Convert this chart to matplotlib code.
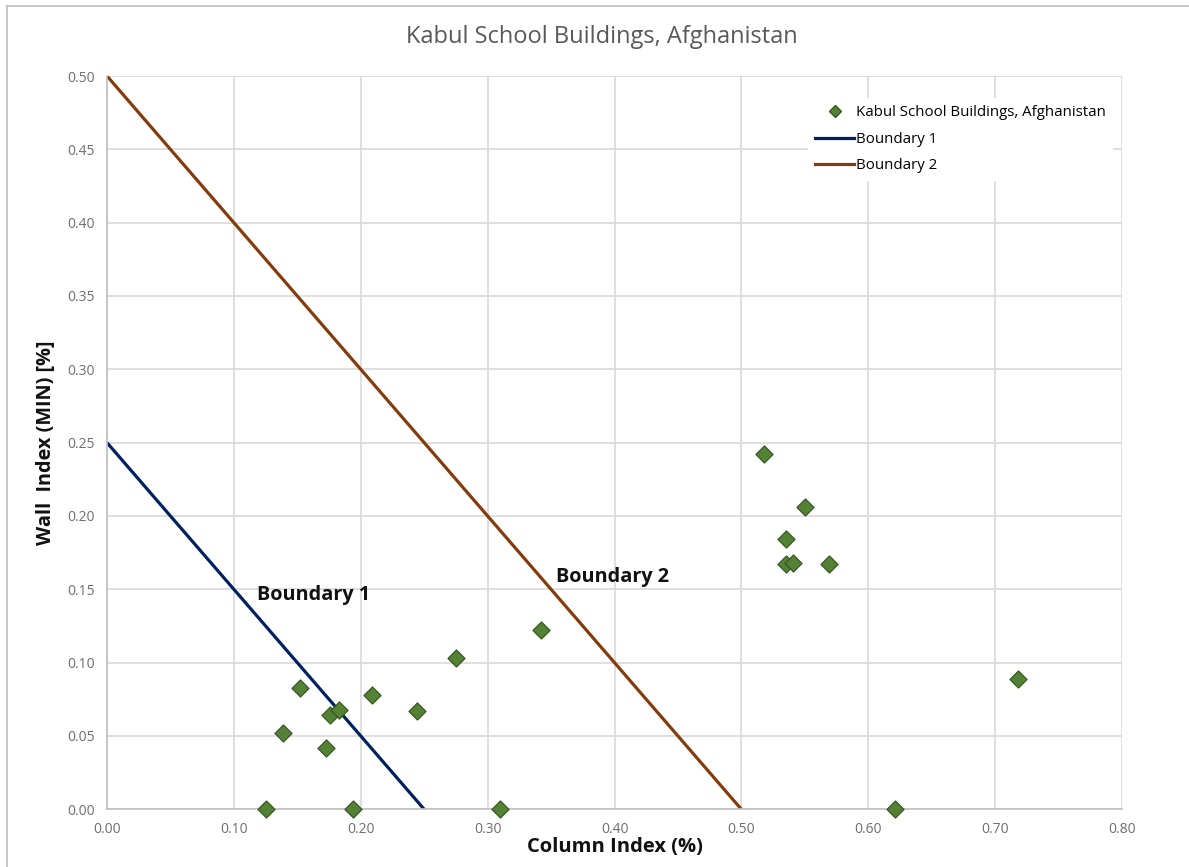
import matplotlib
matplotlib.use("Agg")
import matplotlib.pyplot as plt
from matplotlib.lines import Line2D

# ---- data ----
column_index = [0.152, 0.139, 0.173, 0.176, 0.183, 0.209, 0.244, 0.275,
                0.125, 0.194, 0.310, 0.342, 0.518, 0.550, 0.535, 0.535,
                0.541, 0.569, 0.718, 0.621]
wall_index = [0.083, 0.052, 0.042, 0.064, 0.068, 0.078, 0.067, 0.103,
              0.000, 0.000, 0.000, 0.122, 0.242, 0.206, 0.184, 0.167,
              0.168, 0.167, 0.089, 0.000]
boundary1_x = [0.0, 0.25]
boundary1_y = [0.25, 0.0]
boundary2_x = [0.0, 0.5]
boundary2_y = [0.5, 0.0]
x_ticks = [0.0, 0.1, 0.2, 0.3, 0.4, 0.5, 0.6, 0.7, 0.8]
y_ticks = [0.0, 0.05, 0.10, 0.15, 0.20, 0.25, 0.30, 0.35, 0.40, 0.45, 0.50]

FONT = ["Open Sans", "DejaVu Sans"]
plt.rcParams["font.family"] = FONT

W, H = 1189, 867
fig = plt.figure(figsize=(W / 100, H / 100), dpi=100)
ax = fig.add_axes([107 / W, (H - 809.3) / H, 1015 / W, (809.3 - 76) / H])

grid_c = "#d9d9d9"
ax.set_xlim(0, 0.8)
ax.set_ylim(0, 0.5)
ax.set_xticks(x_ticks)
ax.set_yticks(y_ticks)
ax.set_xticklabels([f"{v:.2f}" for v in x_ticks])
ax.set_yticklabels([f"{v:.2f}" for v in y_ticks])
ax.grid(True, color=grid_c, linewidth=1.2, zorder=0)
ax.set_axisbelow(True)
for s in ["top", "right"]:
    ax.spines[s].set_visible(False)
for s in ["left", "bottom"]:
    ax.spines[s].set_color("#bfbfbf")
    ax.spines[s].set_linewidth(1.2)
ax.tick_params(length=0, labelsize=10, colors="#6e6e6e", pad=9)

ax.plot(boundary1_x, boundary1_y, color="#002060", linewidth=2.3, zorder=2,
        label="Boundary 1", solid_capstyle="butt")
ax.plot(boundary2_x, boundary2_y, color="#843C0C", linewidth=2.3, zorder=2,
        label="Boundary 2", solid_capstyle="butt")
ax.scatter(column_index, wall_index, marker="D", s=75, color="#548235",
           edgecolors="#375623", linewidths=0.9, zorder=3, clip_on=False,
           label="Kabul School Buildings, Afghanistan")

ax.text(0.118, 0.146, "Boundary 1", fontsize=14.3, fontweight="bold",
        va="center", ha="left", color="#111111")
ax.text(0.354, 0.1587, "Boundary 2", fontsize=14.3, fontweight="bold",
        va="center", ha="left", color="#111111")

ax.set_xlabel("Column Index (%)", fontsize=14.5, fontweight="bold",
              color="#111111", labelpad=0)
ax.set_ylabel("Wall  Index (MIN) [%]", fontsize=14.3, fontweight="bold",
              color="#111111", labelpad=8)
fig.text(602 / W, 1 - 37 / H, "Kabul School Buildings, Afghanistan",
         fontsize=17, color="#595959", ha="center", va="center")

handles = [
    Line2D([], [], marker="D", linestyle="none", markersize=6.5,
           markerfacecolor="#548235", markeredgecolor="#375623"),
    Line2D([], [], color="#002060", linewidth=2.3),
    Line2D([], [], color="#843C0C", linewidth=2.3),
]
labels = ["Kabul School Buildings, Afghanistan", "Boundary 1", "Boundary 2"]
leg = ax.legend(handles, labels, loc="upper right",
                bbox_to_anchor=(1113 / W, 1 - 98 / H),
                bbox_transform=fig.transFigure, frameon=True, fancybox=False,
                edgecolor="none", facecolor="white", framealpha=1,
                fontsize=10.8, handlelength=2.6, handletextpad=0.1,
                labelspacing=0.75, borderpad=0.5, borderaxespad=0)
leg.set_zorder(5)

# figure border (partial frame, as in the screenshot)
fig.add_artist(Line2D([7 / W, 7 / W], [0, 1 - 6 / H], transform=fig.transFigure,
                      color="#bfbfbf", linewidth=1.2))
fig.add_artist(Line2D([7 / W, 1], [1 - 6 / H, 1 - 6 / H], transform=fig.transFigure,
                      color="#bfbfbf", linewidth=1.2))

fig.savefig("out.png", dpi=100)
